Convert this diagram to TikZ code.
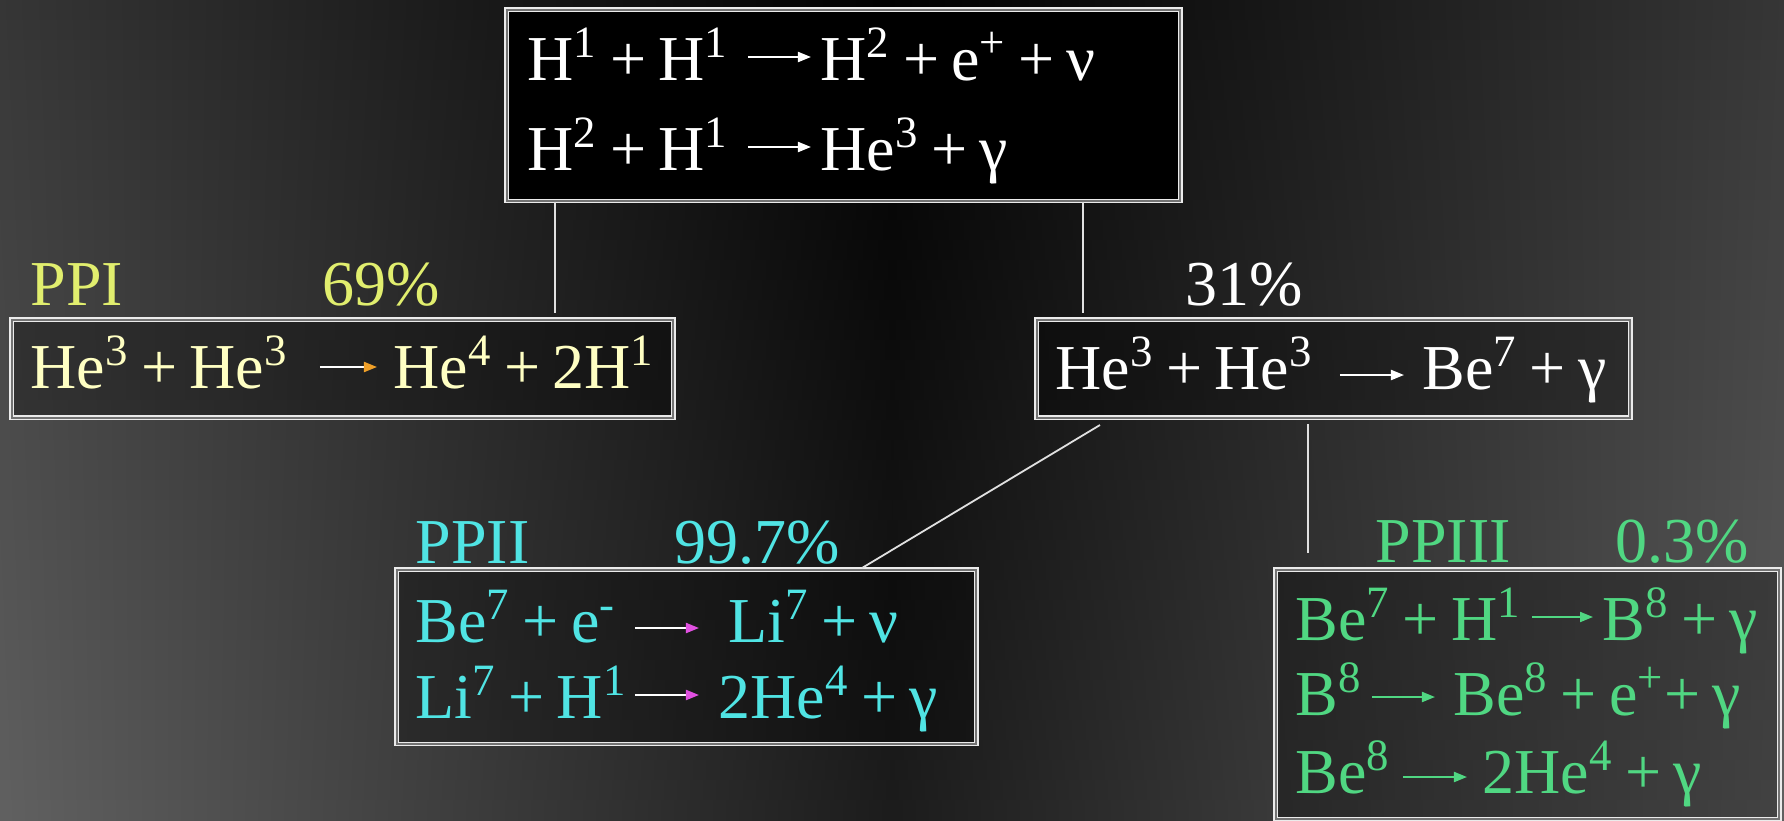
\documentclass[tikz,border=0pt]{standalone}
\usepackage{fontspec}
\setmainfont{Liberation Serif}[WordSpace=0.75]
\usetikzlibrary{arrows.meta}
\definecolor{ppiLab}{RGB}{225,238,110}
\definecolor{ppiTxt}{RGB}{255,255,195}
\definecolor{ppiHead}{RGB}{240,160,40}
\definecolor{ppiiTxt}{RGB}{80,228,228}
\definecolor{ppiiHead}{RGB}{225,80,225}
\definecolor{ppiiiTxt}{RGB}{80,215,130}
\begin{document}
\begin{tikzpicture}[x=0.01cm, y=-0.01cm,
  txt/.style={anchor=base west, inner sep=0pt, font=\fontsize{18.2pt}{22pt}\selectfont},
  box/.style={anchor=north west, draw=white!92!black, line width=0.016cm, double=black!55, double distance=0.016cm, inner sep=0pt},
  link/.style={draw=white!88!black, line width=0.018cm},
  rx/.style={line width=0.02cm, -{Triangle[length=0.13cm, width=0.1cm]}},
]
\useasboundingbox (0,0) rectangle (1784,820);
% background: horizontal V-shaped gradient, lighter towards the bottom
\foreach \i in {0,...,40} {
  \pgfmathsetmacro{\ya}{20*\i}
  \pgfmathsetmacro{\yb}{20*\i+21}
  \pgfmathsetmacro{\v}{0.55+0.45*(20*\i+10)/820}
  \pgfmathsetmacro{\mid}{11*(20*\i+10)/820}
  \pgfmathsetmacro{\edge}{38*\v}
  \shade[left color=white!\edge!black, right color=white!\edge!black, middle color=white!\mid!black]
    (0,\ya) rectangle (1784,\yb);
}

% boxes
\node[box, fill=black, minimum width=6.73cm, minimum height=1.91cm] (topbox) at (506,9) {};
\node[box, fill=black, fill opacity=0.3, minimum width=6.61cm, minimum height=0.98cm] (ppibox) at (11,319) {};
\node[box, fill=black, fill opacity=0.3, minimum width=5.93cm, minimum height=0.98cm] (bbox) at (1036,319) {};
\node[box, fill=black, fill opacity=0.3, minimum width=5.79cm, minimum height=1.74cm] (ppiibox) at (396,569) {};
\node[box, fill=black, fill opacity=0.3, minimum width=5.03cm, minimum height=2.49cm] (ppiiibox) at (1275,569) {};

% links
\coordinate (c1) at (555,313);
\coordinate (c2) at (1083,313);
\coordinate (c3) at (1100,425);
\coordinate (c4) at (862,568);
\coordinate (c5) at (1308,424);
\coordinate (c6) at (1308,553);
\draw[link] (c1 |- topbox.south) -- (c1);
\draw[link] (c2 |- topbox.south) -- (c2);
\draw[link] (c3) -- (c4);
\draw[link] (c5) -- (c6);

% top box and 31% branch
\begin{scope}[every node/.append style={text=white}]
\node[txt] (t1a) at (527,80) {H\textsuperscript{1} + H\textsuperscript{1}};
\node[txt] (t1b) at (820,80) {H\textsuperscript{2} + e\textsuperscript{+} + ν};
\node[txt] (t2a) at (527,170) {H\textsuperscript{2} + H\textsuperscript{1}};
\node[txt] (t2b) at (820,170) {He\textsuperscript{3} + γ};
\node[txt] (p31) at (1185,305) {31\%};
\node[txt] (b1a) at (1055,389) {He\textsuperscript{3} + He\textsuperscript{3}};
\node[txt] (b1b) at (1422,389) {Be\textsuperscript{7} + γ};
\end{scope}
\draw[rx, white] ([xshift=-0.72cm, yshift=0.23cm]t1b.base west) -- ([xshift=-0.09cm, yshift=0.23cm]t1b.base west);
\draw[rx, white] ([xshift=-0.72cm, yshift=0.23cm]t2b.base west) -- ([xshift=-0.09cm, yshift=0.23cm]t2b.base west);
\draw[rx, white] ([xshift=-0.82cm, yshift=0.14cm]b1b.base west) -- ([xshift=-0.18cm, yshift=0.14cm]b1b.base west);

% PPI
\node[txt, text=ppiLab] (ppil) at (30,305) {PPI};
\node[txt, text=ppiLab] (p69) at (322,305) {69\%};
\node[txt, text=ppiTxt] (pa) at (30,388) {He\textsuperscript{3} + He\textsuperscript{3}};
\node[txt, text=ppiTxt] (pb) at (393,388) {He\textsuperscript{4} + 2H\textsuperscript{1}};
\draw[rx, white, -{Triangle[length=0.13cm, width=0.1cm, color=ppiHead]}] ([xshift=-0.73cm, yshift=0.21cm]pb.base west) -- ([xshift=-0.16cm, yshift=0.21cm]pb.base west);

% PPII
\node[txt, text=ppiiTxt] (ppiil) at (415,563) {PPII};
\node[txt, text=ppiiTxt] (p997) at (674,563) {99.7\%};
\node[txt, text=ppiiTxt] (qa) at (415,642) {Be\textsuperscript{7} + e\textsuperscript{-}};
\node[txt, text=ppiiTxt] (qb) at (728,642) {Li\textsuperscript{7} + ν};
\node[txt, text=ppiiTxt] (ra) at (415,718) {Li\textsuperscript{7} + H\textsuperscript{1}};
\node[txt, text=ppiiTxt] (rb) at (718,718) {2He\textsuperscript{4} + γ};
\draw[rx, white, -{Triangle[length=0.13cm, width=0.1cm, color=ppiiHead]}] ([xshift=-0.93cm, yshift=0.14cm]qb.base west) -- ([xshift=-0.29cm, yshift=0.14cm]qb.base west);
\draw[rx, white, -{Triangle[length=0.13cm, width=0.1cm, color=ppiiHead]}] ([xshift=-0.83cm, yshift=0.23cm]rb.base west) -- ([xshift=-0.19cm, yshift=0.23cm]rb.base west);

% PPIII
\node[txt, text=ppiiiTxt] (ppiiil) at (1375,562) {PPIII};
\node[txt, text=ppiiiTxt] (p03) at (1615,562) {0.3\%};
\node[txt, text=ppiiiTxt] (sa) at (1295,640) {Be\textsuperscript{7} + H\textsuperscript{1}};
\node[txt, text=ppiiiTxt] (sb) at (1602,640) {B\textsuperscript{8} + γ};
\node[txt, text=ppiiiTxt] (ua) at (1295,715) {B\textsuperscript{8}};
\node[txt, text=ppiiiTxt] (ub) at (1453,715) {Be\textsuperscript{8} + e\textsuperscript{+}+ γ};
\node[txt, text=ppiiiTxt] (va) at (1295,793) {Be\textsuperscript{8}};
\node[txt, text=ppiiiTxt] (vb) at (1482,793) {2He\textsuperscript{4} + γ};
\draw[rx, ppiiiTxt] ([xshift=-0.70cm, yshift=0.23cm]sb.base west) -- ([xshift=-0.09cm, yshift=0.23cm]sb.base west);
\draw[rx, ppiiiTxt] ([xshift=-0.81cm, yshift=0.18cm]ub.base west) -- ([xshift=-0.18cm, yshift=0.18cm]ub.base west);
\draw[rx, ppiiiTxt] ([xshift=-0.79cm, yshift=0.16cm]vb.base west) -- ([xshift=-0.15cm, yshift=0.16cm]vb.base west);
\end{tikzpicture}
\end{document}
